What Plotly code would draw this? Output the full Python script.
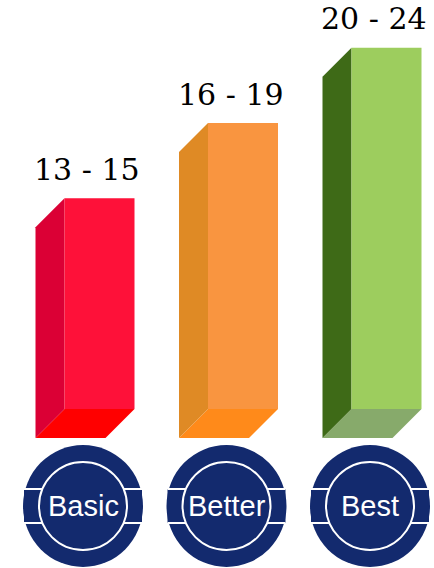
import plotly.graph_objects as go

# ---- data ----
categories = ["Basic", "Better", "Best"]
range_labels = ["13 - 15", "16 - 19", "20 - 24"]
bar_values = [14, 19, 24]

# ---- styles ----
front_colors = ["#FE1139", "#F99540", "#9DCD5E"]
side_colors = ["#DB0035", "#DF8A25", "#3E6A17"]
bottom_colors = ["#FF0000", "#FF8A1A", "#87AA6B"]
navy = "#132A6E"

W, H = 434, 568
x_range = [-0.6934, 2.331]
y_range = [-10.565, 27.176]
px_per_x = W / (x_range[1] - x_range[0])
px_per_y = H / (y_range[1] - y_range[0])

front_w = 70 / px_per_x
dx = 29 / px_per_x
dy = 29 / px_per_y
badge_offset = -16.5 / px_per_x
badge_y_paper = 1 - 506 / H

fig = go.Figure()

for i, (cat, v) in enumerate(zip(categories, bar_values)):
    c = i
    L, R = c - front_w / 2, c + front_w / 2
    # bottom face
    fig.add_trace(go.Scatter(
        x=[L, R, R - dx, L - dx, L], y=[0, 0, -dy, -dy, 0],
        fill="toself", fillcolor=bottom_colors[i], mode="lines",
        line=dict(width=0, color=bottom_colors[i]), hoverinfo="skip", showlegend=False))
    # side face
    fig.add_trace(go.Scatter(
        x=[L, L - dx, L - dx, L, L], y=[v, v - dy, -dy, 0, v],
        fill="toself", fillcolor=side_colors[i], mode="lines",
        line=dict(width=0, color=side_colors[i]), hoverinfo="skip", showlegend=False))
    # front face
    fig.add_trace(go.Scatter(
        x=[L, R, R, L, L], y=[0, 0, v, v, 0],
        fill="toself", fillcolor=front_colors[i], mode="lines",
        line=dict(width=0, color=front_colors[i]), hoverinfo="skip", showlegend=False))
    # range label
    fig.add_annotation(x=c - dx / 2 + 2 / px_per_x, y=v, xref="x", yref="y", text=range_labels[i],
                       showarrow=False, yshift=29, xanchor="center", yanchor="middle",
                       font=dict(family="DejaVu Serif", size=30, color="black"))

    # badge
    bx = c + badge_offset
    common = dict(xref="x", yref="paper", xsizemode="pixel", ysizemode="pixel",
                  xanchor=bx, yanchor=badge_y_paper, layer="above")
    fig.add_shape(type="circle", x0=-60, x1=60, y0=-61, y1=61,
                  fillcolor=navy, line=dict(width=0), **common)
    fig.add_shape(type="rect", x0=-59, x1=59, y0=-17, y1=17,
                  fillcolor=navy, line=dict(width=0), **common)
    fig.add_shape(type="line", x0=-59, x1=59, y0=17, y1=17,
                  line=dict(color="white", width=2), **common)
    fig.add_shape(type="line", x0=-59, x1=59, y0=-17, y1=-17,
                  line=dict(color="white", width=2), **common)
    fig.add_shape(type="circle", x0=-44, x1=44, y0=-44, y1=44,
                  fillcolor=navy, line=dict(color="white", width=2), **common)
    fig.add_annotation(x=bx, y=badge_y_paper, xref="x", yref="paper", text=cat,
                       showarrow=False, xanchor="center", yanchor="middle",
                       font=dict(family="Liberation Sans, Arial", size=29, color="white"))

fig.update_xaxes(range=x_range, visible=False, showgrid=False, zeroline=False, fixedrange=True)
fig.update_yaxes(range=y_range, visible=False, showgrid=False, zeroline=False, fixedrange=True)
fig.update_layout(width=W, height=H, margin=dict(l=0, r=0, t=0, b=0),
                  paper_bgcolor="white", plot_bgcolor="white", showlegend=False)

fig.write_html("out.html", config={"displayModeBar": False})
